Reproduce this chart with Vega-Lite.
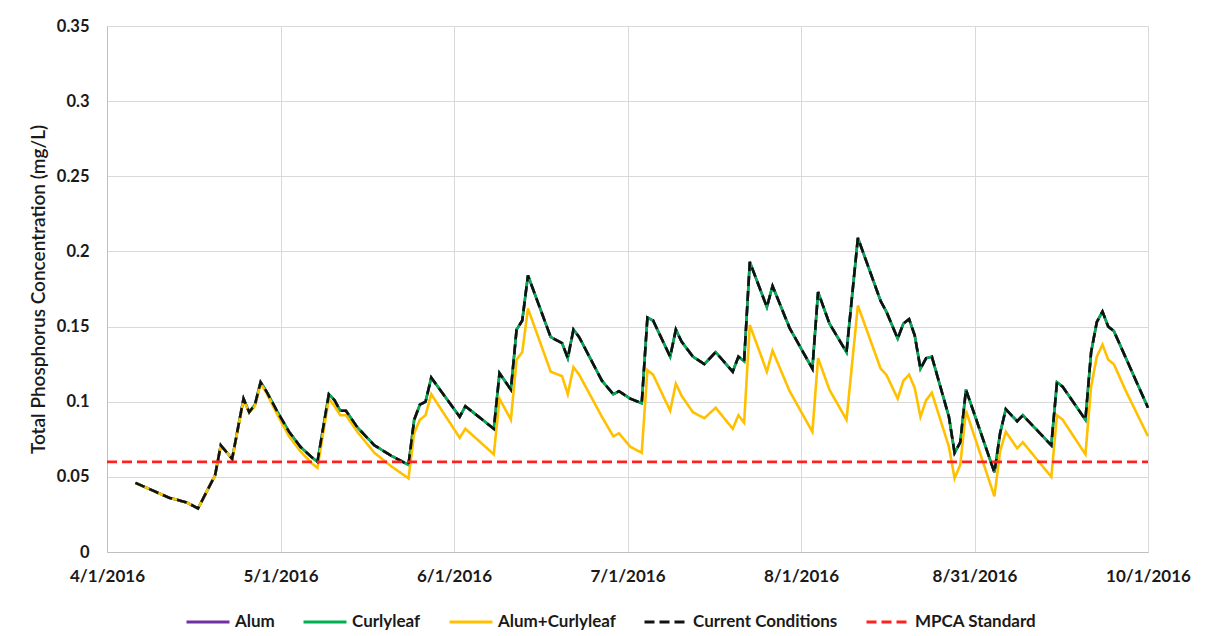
{
  "$schema": "https://vega.github.io/schema/vega-lite/v6.json",
  "autosize": {"type": "none"},
  "width": 1041,
  "height": 526,
  "padding": {"left": 107, "top": 26, "right": 58, "bottom": 84},
  "background": "#ffffff",
  "config": {
    "font": "Lato",
    "view": {"stroke": null},
    "axis": {
      "gridColor": "#d9d9d9",
      "gridWidth": 1,
      "domainColor": "#bfbfbf",
      "domainWidth": 1,
      "ticks": false,
      "labelFont": "Lato",
      "labelFontWeight": "bold",
      "labelFontSize": 16.5,
      "labelColor": "#1a1a1a",
      "titleFont": "Lato",
      "titleColor": "#1a1a1a"
    },
    "legend": {
      "labelFont": "Lato",
      "labelFontWeight": "bold",
      "labelFontSize": 17,
      "labelColor": "#1a1a1a",
      "padding": 0
    }
  },
  "encoding": {
    "x": {
      "field": "date",
      "type": "temporal",
      "scale": {
        "type": "utc",
        "domain": [
          {"year": 2016, "month": 4, "date": 1, "utc": true},
          {"year": 2016, "month": 10, "date": 1, "utc": true}
        ]
      },
      "axis": {
        "title": null,
        "values": [
          {"year": 2016, "month": 4, "date": 1, "utc": true},
          {"year": 2016, "month": 5, "date": 1, "hours": 12, "utc": true},
          {"year": 2016, "month": 6, "date": 1, "utc": true},
          {"year": 2016, "month": 7, "date": 1, "hours": 12, "utc": true},
          {"year": 2016, "month": 8, "date": 1, "utc": true},
          {"year": 2016, "month": 8, "date": 31, "hours": 12, "utc": true},
          {"year": 2016, "month": 10, "date": 1, "utc": true}
        ],
        "format": "%-m/%-d/%Y",
        "labelFontSize": 17,
        "labelPadding": 16,
        "labelFlush": false,
        "labelOverlap": false
      }
    },
    "y": {
      "field": "tp",
      "type": "quantitative",
      "scale": {"domain": [0, 0.35], "nice": false, "zero": true},
      "axis": {
        "title": "Total Phosphorus Concentration (mg/L)",
        "titleFontSize": 19,
        "titleFontWeight": 600,
        "titlePadding": 8,
        "values": [0, 0.05, 0.1, 0.15, 0.2, 0.25, 0.3, 0.35],
        "format": ".2~f",
        "labelPadding": 18
      }
    },
    "color": {
      "field": "series",
      "type": "nominal",
      "scale": {
        "domain": ["Alum", "Curlyleaf", "Alum+Curlyleaf", "Current Conditions", "MPCA Standard"],
        "range": ["#7030a0", "#00b050", "#ffc000", "#111111", "#ff2020"]
      },
      "legend": {
        "title": null,
        "orient": "none",
        "legendX": 78,
        "legendY": 573,
        "direction": "horizontal",
        "symbolType": "stroke",
        "symbolSize": 1849,
        "symbolStrokeWidth": 3,
        "labelOffset": 4,
        "columnPadding": 22
      }
    },
    "strokeDash": {
      "field": "series",
      "type": "nominal",
      "scale": {
        "domain": ["Alum", "Curlyleaf", "Alum+Curlyleaf", "Current Conditions", "MPCA Standard"],
        "range": [[1, 0], [1, 0], [1, 0], [10, 5], [10, 5]]
      },
      "legend": {
        "title": null,
        "orient": "none",
        "legendX": 78,
        "legendY": 573,
        "direction": "horizontal",
        "symbolType": "stroke",
        "symbolSize": 1849,
        "symbolStrokeWidth": 3,
        "labelOffset": 4,
        "columnPadding": 22
      }
    }
  },
  "layer": [
    {
      "data": {
        "values": [
          {"date": "2016-04-06", "Alum": 0.046, "Curlyleaf": 0.046, "Alum+Curlyleaf": 0.046, "Current Conditions": 0.046},
          {"date": "2016-04-09", "Alum": 0.041, "Curlyleaf": 0.041, "Alum+Curlyleaf": 0.041, "Current Conditions": 0.041},
          {"date": "2016-04-12", "Alum": 0.036, "Curlyleaf": 0.036, "Alum+Curlyleaf": 0.036, "Current Conditions": 0.036},
          {"date": "2016-04-15", "Alum": 0.033, "Curlyleaf": 0.033, "Alum+Curlyleaf": 0.033, "Current Conditions": 0.033},
          {"date": "2016-04-17", "Alum": 0.029, "Curlyleaf": 0.029, "Alum+Curlyleaf": 0.029, "Current Conditions": 0.029},
          {"date": "2016-04-20", "Alum": 0.051, "Curlyleaf": 0.051, "Alum+Curlyleaf": 0.051, "Current Conditions": 0.051},
          {"date": "2016-04-21", "Alum": 0.071, "Curlyleaf": 0.071, "Alum+Curlyleaf": 0.071, "Current Conditions": 0.071},
          {"date": "2016-04-23", "Alum": 0.062, "Curlyleaf": 0.062, "Alum+Curlyleaf": 0.062, "Current Conditions": 0.062},
          {"date": "2016-04-25", "Alum": 0.102, "Curlyleaf": 0.102, "Alum+Curlyleaf": 0.101, "Current Conditions": 0.102},
          {"date": "2016-04-26", "Alum": 0.093, "Curlyleaf": 0.093, "Alum+Curlyleaf": 0.093, "Current Conditions": 0.093},
          {"date": "2016-04-27", "Alum": 0.098, "Curlyleaf": 0.098, "Alum+Curlyleaf": 0.097, "Current Conditions": 0.098},
          {"date": "2016-04-28", "Alum": 0.113, "Curlyleaf": 0.113, "Alum+Curlyleaf": 0.112, "Current Conditions": 0.113},
          {"date": "2016-04-29", "Alum": 0.107, "Curlyleaf": 0.107, "Alum+Curlyleaf": 0.106, "Current Conditions": 0.107},
          {"date": "2016-05-01", "Alum": 0.093, "Curlyleaf": 0.093, "Alum+Curlyleaf": 0.091, "Current Conditions": 0.093},
          {"date": "2016-05-03", "Alum": 0.080, "Curlyleaf": 0.080, "Alum+Curlyleaf": 0.077, "Current Conditions": 0.080},
          {"date": "2016-05-05", "Alum": 0.070, "Curlyleaf": 0.070, "Alum+Curlyleaf": 0.067, "Current Conditions": 0.070},
          {"date": "2016-05-07", "Alum": 0.063, "Curlyleaf": 0.063, "Alum+Curlyleaf": 0.059, "Current Conditions": 0.063},
          {"date": "2016-05-08", "Alum": 0.060, "Curlyleaf": 0.060, "Alum+Curlyleaf": 0.056, "Current Conditions": 0.060},
          {"date": "2016-05-10", "Alum": 0.105, "Curlyleaf": 0.105, "Alum+Curlyleaf": 0.102, "Current Conditions": 0.105},
          {"date": "2016-05-11", "Alum": 0.101, "Curlyleaf": 0.101, "Alum+Curlyleaf": 0.097, "Current Conditions": 0.101},
          {"date": "2016-05-12", "Alum": 0.094, "Curlyleaf": 0.094, "Alum+Curlyleaf": 0.091, "Current Conditions": 0.094},
          {"date": "2016-05-13", "Alum": 0.094, "Curlyleaf": 0.094, "Alum+Curlyleaf": 0.091, "Current Conditions": 0.094},
          {"date": "2016-05-15", "Alum": 0.083, "Curlyleaf": 0.083, "Alum+Curlyleaf": 0.080, "Current Conditions": 0.083},
          {"date": "2016-05-18", "Alum": 0.071, "Curlyleaf": 0.071, "Alum+Curlyleaf": 0.066, "Current Conditions": 0.071},
          {"date": "2016-05-21", "Alum": 0.064, "Curlyleaf": 0.064, "Alum+Curlyleaf": 0.057, "Current Conditions": 0.064},
          {"date": "2016-05-24", "Alum": 0.058, "Curlyleaf": 0.058, "Alum+Curlyleaf": 0.049, "Current Conditions": 0.058},
          {"date": "2016-05-25", "Alum": 0.088, "Curlyleaf": 0.088, "Alum+Curlyleaf": 0.079, "Current Conditions": 0.088},
          {"date": "2016-05-26", "Alum": 0.098, "Curlyleaf": 0.098, "Alum+Curlyleaf": 0.088, "Current Conditions": 0.098},
          {"date": "2016-05-27", "Alum": 0.100, "Curlyleaf": 0.100, "Alum+Curlyleaf": 0.091, "Current Conditions": 0.100},
          {"date": "2016-05-28", "Alum": 0.116, "Curlyleaf": 0.116, "Alum+Curlyleaf": 0.105, "Current Conditions": 0.116},
          {"date": "2016-06-02", "Alum": 0.090, "Curlyleaf": 0.090, "Alum+Curlyleaf": 0.076, "Current Conditions": 0.090},
          {"date": "2016-06-03", "Alum": 0.097, "Curlyleaf": 0.097, "Alum+Curlyleaf": 0.082, "Current Conditions": 0.097},
          {"date": "2016-06-08", "Alum": 0.082, "Curlyleaf": 0.082, "Alum+Curlyleaf": 0.065, "Current Conditions": 0.082},
          {"date": "2016-06-09", "Alum": 0.119, "Curlyleaf": 0.119, "Alum+Curlyleaf": 0.102, "Current Conditions": 0.119},
          {"date": "2016-06-11", "Alum": 0.108, "Curlyleaf": 0.108, "Alum+Curlyleaf": 0.088, "Current Conditions": 0.108},
          {"date": "2016-06-12", "Alum": 0.148, "Curlyleaf": 0.148, "Alum+Curlyleaf": 0.128, "Current Conditions": 0.148},
          {"date": "2016-06-13", "Alum": 0.154, "Curlyleaf": 0.154, "Alum+Curlyleaf": 0.133, "Current Conditions": 0.154},
          {"date": "2016-06-14", "Alum": 0.184, "Curlyleaf": 0.184, "Alum+Curlyleaf": 0.162, "Current Conditions": 0.184},
          {"date": "2016-06-18", "Alum": 0.143, "Curlyleaf": 0.143, "Alum+Curlyleaf": 0.120, "Current Conditions": 0.143},
          {"date": "2016-06-20", "Alum": 0.139, "Curlyleaf": 0.139, "Alum+Curlyleaf": 0.117, "Current Conditions": 0.139},
          {"date": "2016-06-21", "Alum": 0.129, "Curlyleaf": 0.129, "Alum+Curlyleaf": 0.105, "Current Conditions": 0.129},
          {"date": "2016-06-22", "Alum": 0.148, "Curlyleaf": 0.148, "Alum+Curlyleaf": 0.123, "Current Conditions": 0.148},
          {"date": "2016-06-23", "Alum": 0.143, "Curlyleaf": 0.143, "Alum+Curlyleaf": 0.118, "Current Conditions": 0.143},
          {"date": "2016-06-27", "Alum": 0.114, "Curlyleaf": 0.114, "Alum+Curlyleaf": 0.090, "Current Conditions": 0.114},
          {"date": "2016-06-29", "Alum": 0.105, "Curlyleaf": 0.105, "Alum+Curlyleaf": 0.077, "Current Conditions": 0.105},
          {"date": "2016-06-30", "Alum": 0.107, "Curlyleaf": 0.107, "Alum+Curlyleaf": 0.079, "Current Conditions": 0.107},
          {"date": "2016-07-02", "Alum": 0.102, "Curlyleaf": 0.102, "Alum+Curlyleaf": 0.070, "Current Conditions": 0.102},
          {"date": "2016-07-04", "Alum": 0.099, "Curlyleaf": 0.099, "Alum+Curlyleaf": 0.066, "Current Conditions": 0.099},
          {"date": "2016-07-05", "Alum": 0.156, "Curlyleaf": 0.156, "Alum+Curlyleaf": 0.121, "Current Conditions": 0.156},
          {"date": "2016-07-06", "Alum": 0.154, "Curlyleaf": 0.154, "Alum+Curlyleaf": 0.118, "Current Conditions": 0.154},
          {"date": "2016-07-09", "Alum": 0.130, "Curlyleaf": 0.130, "Alum+Curlyleaf": 0.094, "Current Conditions": 0.130},
          {"date": "2016-07-10", "Alum": 0.148, "Curlyleaf": 0.148, "Alum+Curlyleaf": 0.112, "Current Conditions": 0.148},
          {"date": "2016-07-11", "Alum": 0.140, "Curlyleaf": 0.140, "Alum+Curlyleaf": 0.104, "Current Conditions": 0.140},
          {"date": "2016-07-13", "Alum": 0.130, "Curlyleaf": 0.130, "Alum+Curlyleaf": 0.093, "Current Conditions": 0.130},
          {"date": "2016-07-15", "Alum": 0.125, "Curlyleaf": 0.125, "Alum+Curlyleaf": 0.089, "Current Conditions": 0.125},
          {"date": "2016-07-17", "Alum": 0.133, "Curlyleaf": 0.133, "Alum+Curlyleaf": 0.096, "Current Conditions": 0.133},
          {"date": "2016-07-20", "Alum": 0.120, "Curlyleaf": 0.120, "Alum+Curlyleaf": 0.082, "Current Conditions": 0.120},
          {"date": "2016-07-21", "Alum": 0.130, "Curlyleaf": 0.130, "Alum+Curlyleaf": 0.091, "Current Conditions": 0.130},
          {"date": "2016-07-22", "Alum": 0.127, "Curlyleaf": 0.127, "Alum+Curlyleaf": 0.086, "Current Conditions": 0.127},
          {"date": "2016-07-23", "Alum": 0.193, "Curlyleaf": 0.193, "Alum+Curlyleaf": 0.151, "Current Conditions": 0.193},
          {"date": "2016-07-26", "Alum": 0.163, "Curlyleaf": 0.163, "Alum+Curlyleaf": 0.120, "Current Conditions": 0.163},
          {"date": "2016-07-27", "Alum": 0.177, "Curlyleaf": 0.177, "Alum+Curlyleaf": 0.134, "Current Conditions": 0.177},
          {"date": "2016-07-30", "Alum": 0.149, "Curlyleaf": 0.149, "Alum+Curlyleaf": 0.107, "Current Conditions": 0.149},
          {"date": "2016-08-03", "Alum": 0.122, "Curlyleaf": 0.122, "Alum+Curlyleaf": 0.080, "Current Conditions": 0.122},
          {"date": "2016-08-04", "Alum": 0.173, "Curlyleaf": 0.173, "Alum+Curlyleaf": 0.129, "Current Conditions": 0.173},
          {"date": "2016-08-06", "Alum": 0.152, "Curlyleaf": 0.152, "Alum+Curlyleaf": 0.108, "Current Conditions": 0.152},
          {"date": "2016-08-09", "Alum": 0.133, "Curlyleaf": 0.133, "Alum+Curlyleaf": 0.088, "Current Conditions": 0.133},
          {"date": "2016-08-11", "Alum": 0.209, "Curlyleaf": 0.209, "Alum+Curlyleaf": 0.164, "Current Conditions": 0.209},
          {"date": "2016-08-15", "Alum": 0.167, "Curlyleaf": 0.167, "Alum+Curlyleaf": 0.122, "Current Conditions": 0.167},
          {"date": "2016-08-16", "Alum": 0.160, "Curlyleaf": 0.160, "Alum+Curlyleaf": 0.118, "Current Conditions": 0.160},
          {"date": "2016-08-18", "Alum": 0.142, "Curlyleaf": 0.142, "Alum+Curlyleaf": 0.102, "Current Conditions": 0.142},
          {"date": "2016-08-19", "Alum": 0.152, "Curlyleaf": 0.152, "Alum+Curlyleaf": 0.114, "Current Conditions": 0.152},
          {"date": "2016-08-20", "Alum": 0.155, "Curlyleaf": 0.155, "Alum+Curlyleaf": 0.118, "Current Conditions": 0.155},
          {"date": "2016-08-21", "Alum": 0.144, "Curlyleaf": 0.144, "Alum+Curlyleaf": 0.109, "Current Conditions": 0.144},
          {"date": "2016-08-22", "Alum": 0.122, "Curlyleaf": 0.122, "Alum+Curlyleaf": 0.090, "Current Conditions": 0.122},
          {"date": "2016-08-23", "Alum": 0.129, "Curlyleaf": 0.129, "Alum+Curlyleaf": 0.101, "Current Conditions": 0.129},
          {"date": "2016-08-24", "Alum": 0.130, "Curlyleaf": 0.130, "Alum+Curlyleaf": 0.106, "Current Conditions": 0.130},
          {"date": "2016-08-27", "Alum": 0.090, "Curlyleaf": 0.090, "Alum+Curlyleaf": 0.070, "Current Conditions": 0.090},
          {"date": "2016-08-28", "Alum": 0.066, "Curlyleaf": 0.066, "Alum+Curlyleaf": 0.049, "Current Conditions": 0.066},
          {"date": "2016-08-29", "Alum": 0.073, "Curlyleaf": 0.073, "Alum+Curlyleaf": 0.058, "Current Conditions": 0.073},
          {"date": "2016-08-30", "Alum": 0.108, "Curlyleaf": 0.108, "Alum+Curlyleaf": 0.094, "Current Conditions": 0.108},
          {"date": "2016-09-04", "Alum": 0.053, "Curlyleaf": 0.053, "Alum+Curlyleaf": 0.037, "Current Conditions": 0.053},
          {"date": "2016-09-05", "Alum": 0.079, "Curlyleaf": 0.079, "Alum+Curlyleaf": 0.067, "Current Conditions": 0.079},
          {"date": "2016-09-06", "Alum": 0.095, "Curlyleaf": 0.095, "Alum+Curlyleaf": 0.080, "Current Conditions": 0.095},
          {"date": "2016-09-08", "Alum": 0.087, "Curlyleaf": 0.087, "Alum+Curlyleaf": 0.069, "Current Conditions": 0.087},
          {"date": "2016-09-09", "Alum": 0.091, "Curlyleaf": 0.091, "Alum+Curlyleaf": 0.073, "Current Conditions": 0.091},
          {"date": "2016-09-14", "Alum": 0.071, "Curlyleaf": 0.071, "Alum+Curlyleaf": 0.050, "Current Conditions": 0.071},
          {"date": "2016-09-15", "Alum": 0.113, "Curlyleaf": 0.113, "Alum+Curlyleaf": 0.091, "Current Conditions": 0.113},
          {"date": "2016-09-16", "Alum": 0.110, "Curlyleaf": 0.110, "Alum+Curlyleaf": 0.088, "Current Conditions": 0.110},
          {"date": "2016-09-20", "Alum": 0.088, "Curlyleaf": 0.088, "Alum+Curlyleaf": 0.065, "Current Conditions": 0.088},
          {"date": "2016-09-21", "Alum": 0.133, "Curlyleaf": 0.133, "Alum+Curlyleaf": 0.110, "Current Conditions": 0.133},
          {"date": "2016-09-22", "Alum": 0.153, "Curlyleaf": 0.153, "Alum+Curlyleaf": 0.130, "Current Conditions": 0.153},
          {"date": "2016-09-23", "Alum": 0.160, "Curlyleaf": 0.160, "Alum+Curlyleaf": 0.138, "Current Conditions": 0.160},
          {"date": "2016-09-24", "Alum": 0.150, "Curlyleaf": 0.150, "Alum+Curlyleaf": 0.128, "Current Conditions": 0.150},
          {"date": "2016-09-25", "Alum": 0.147, "Curlyleaf": 0.147, "Alum+Curlyleaf": 0.125, "Current Conditions": 0.147},
          {"date": "2016-09-27", "Alum": 0.130, "Curlyleaf": 0.130, "Alum+Curlyleaf": 0.108, "Current Conditions": 0.130},
          {"date": "2016-10-01", "Alum": 0.096, "Curlyleaf": 0.096, "Alum+Curlyleaf": 0.077, "Current Conditions": 0.096}
        ]
      },
      "transform": [
        {"fold": ["Alum", "Curlyleaf", "Alum+Curlyleaf", "Current Conditions"], "as": ["series", "tp"]}
      ],
      "mark": {"type": "line", "strokeWidth": 2.6}
    },
    {
      "data": {
        "values": [
          {"date": "2016-04-01", "series": "MPCA Standard", "tp": 0.06},
          {"date": "2016-10-01", "series": "MPCA Standard", "tp": 0.06}
        ]
      },
      "mark": {"type": "line", "strokeWidth": 2.6}
    }
  ]
}
